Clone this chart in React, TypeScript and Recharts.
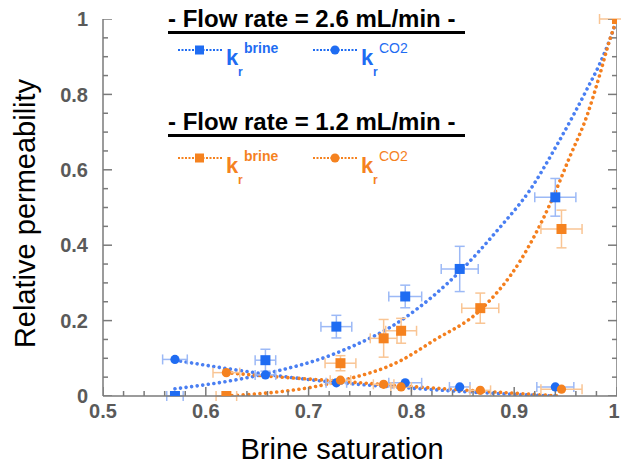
import React from 'react';
import { ComposedChart, Line, Scatter, XAxis, YAxis, ErrorBar, Label } from 'recharts';

// measured points, flow rate 2.6 mL/min (blue)
const swBrine26 = [0.570, 0.658, 0.727, 0.794, 0.847, 0.940, 1.0];
const krBrine26 = [0.0, 0.095, 0.184, 0.264, 0.337, 0.527, 1.0];
const exBrine26 = [0.008, 0.010, 0.015, 0.016, 0.018, 0.020, 0];
const eyBrine26 = [0, 0.029, 0.030, 0.030, 0.060, 0.050, 0];

const swCo226 = [0.570, 0.658, 0.727, 0.794, 0.847, 0.940];
const krCo226 = [0.097, 0.056, 0.035, 0.035, 0.024, 0.024];
const exCo226 = [0.012, 0.010, 0.010, 0.016, 0.010, 0.018];

// measured points, flow rate 1.2 mL/min (orange)
const swBrine12 = [0.620, 0.731, 0.773, 0.790, 0.867, 0.946, 1.0];
const krBrine12 = [0.0, 0.087, 0.153, 0.173, 0.233, 0.443, 1.0];
const exBrine12 = [0.010, 0.015, 0.013, 0.015, 0.018, 0.020, 0.017];
const eyBrine12 = [0, 0.020, 0.050, 0.033, 0.040, 0.050, 0];

const swCo212 = [0.620, 0.731, 0.773, 0.790, 0.867, 0.946];
const krCo212 = [0.062, 0.042, 0.031, 0.024, 0.015, 0.018];
const exCo212 = [0.013, 0.010, 0.010, 0.010, 0.010, 0.020];

// fitted curves
const fitBrine26Sw = [0.570, 0.658, 0.728, 0.795, 0.847, 0.886, 0.915, 0.942, 0.957, 0.971, 0.983, 0.993, 1.0];
const fitBrine26Kr = [0.019, 0.059, 0.115, 0.210, 0.330, 0.447, 0.545, 0.668, 0.742, 0.815, 0.880, 0.945, 1.0];
const fitCo226Sw = [0.570, 0.658, 0.727, 0.794, 0.867, 0.940];
const fitCo226Kr = [0.095, 0.058, 0.036, 0.022, 0.009, 0.0];
const fitBrine12Sw = [0.620, 0.731, 0.789, 0.821, 0.867, 0.906, 0.935, 0.954, 0.971, 0.983, 0.993, 1.0];
const fitBrine12Kr = [0.0, 0.040, 0.093, 0.146, 0.228, 0.359, 0.510, 0.634, 0.745, 0.850, 0.945, 1.0];
const fitCo212Sw = [0.620, 0.658, 0.727, 0.770, 0.867, 0.945];
const fitCo212Kr = [0.062, 0.053, 0.040, 0.031, 0.013, 0.0];

const xTicks = [0.5, 0.6, 0.7, 0.8, 0.9, 1];
const xMinorTicks = [0.5, 0.52, 0.54, 0.56, 0.58, 0.6, 0.62, 0.64, 0.66, 0.68, 0.7, 0.72, 0.74, 0.76, 0.78, 0.8, 0.82, 0.84, 0.86, 0.88, 0.9, 0.92, 0.94, 0.96, 0.98, 1];
const yTicks = [0, 0.2, 0.4, 0.6, 0.8, 1];
const yMinorTicks = [0, 0.05, 0.1, 0.15, 0.2, 0.25, 0.3, 0.35, 0.4, 0.45, 0.5, 0.55, 0.6, 0.65, 0.7, 0.75, 0.8, 0.85, 0.9, 0.95, 1];

const points = (sw: number[], kr: number[], ex: number[], ey?: number[]) =>
  sw.map((s, i) => ({ sw: s, kr: kr[i], ex: ex[i], ey: ey ? ey[i] : 0 }));
const curve = (sw: number[], kr: number[]) => sw.map((s, i) => ({ sw: s, kr: kr[i] }));
const isMajor = (v: number, list: number[]) => list.some((t) => Math.abs(t - v) < 1e-6);

// inward tick marks, placed through the chart scales
const bottomTicks = xMinorTicks.map((v) => ({ sw: v, kr: 0, major: isMajor(v, xTicks) }));
const leftTicks = yMinorTicks.map((v) => ({ sw: 0.5, kr: v, major: isMajor(v, yTicks) }));
const rightTicks = yMinorTicks.map((v) => ({ sw: 1, kr: v, major: isMajor(v, yTicks) }));
const rightFrame = [{ sw: 1, kr: 0 }, { sw: 1, kr: 1 }];

const BLUE = '#1f6cf2';
const BLUE_LINE = '#4a7ff2';
const BLUE_ERR = '#9cb9f6';
const ORANGE = '#f5821f';
const ORANGE_LINE = '#f47f1e';
const ORANGE_ERR = '#f9c594';
const GRID = '#7a7a7a';
const FONT = '"Liberation Sans", Arial, sans-serif';
const TICK_FILL = '#5a5a5a';

const squareShape = (color: string) => (p: any) => (
  <rect x={p.cx - 5} y={p.cy - 5} width={10} height={10} fill={color} />
);
const circleShape = (color: string) => (p: any) => (
  <circle cx={p.cx} cy={p.cy} r={4.6} fill={color} />
);
const tickShape = (dx: number, dy: number) => (p: any) => {
  const len = p.payload && p.payload.major ? 9 : 5;
  return (
    <line x1={p.cx} y1={p.cy} x2={p.cx + dx * len} y2={p.cy + dy * len} stroke={GRID} strokeWidth={1.5} />
  );
};

// bottom labels; the last one is nudged left so it stays inside the picture
const XTick = (p: any) => {
  const v = p.payload.value;
  return (
    <text x={v === 1 ? p.x - 3 : p.x} y={p.y} dy="0.71em" textAnchor="middle" fontFamily={FONT}
      fontWeight={700} fontSize={20} fill={TICK_FILL}>{String(v)}</text>
  );
};

const tickText = { fontFamily: FONT, fontWeight: 700, fontSize: 20, fill: TICK_FILL };

const dotted = { strokeWidth: 3.6, strokeDasharray: '0.01 5.6', strokeLinecap: 'round' as const };

function LegendOverlay() {
  const head = { fontFamily: FONT, fontWeight: 700, fontSize: 24, fill: '#000' };
  const item = (x: number, y: number, color: string, sup: string, square: boolean, supBold: boolean) => (
    <g>
      <line x1={x} x2={x + 44} y1={y} y2={y} stroke={color} strokeWidth={2} strokeDasharray="2 1.5" />
      {square ? (
        <rect x={x + 17} y={y - 4.5} width={9} height={9} fill={color} />
      ) : (
        <circle cx={x + 22} cy={y} r={4.5} fill={color} />
      )}
      <text x={x + 48} y={y + 15} fill={color} fontFamily={FONT} fontWeight={700} fontSize={22}>k</text>
      <text x={x + 60} y={y + 26} fill={color} fontFamily={FONT} fontWeight={700} fontSize={12}>r</text>
      <text x={x + 66} y={y + 3} fill={color} fontFamily={FONT} fontWeight={supBold ? 700 : 400} fontSize={14}>{sup}</text>
    </g>
  );
  return (
    <svg width={621} height={466} style={{ position: 'absolute', left: 0, top: 0, pointerEvents: 'none' }}>
      <text x={168} y={27} {...head}>- Flow rate = 2.6 mL/min -</text>
      <rect x={168} y={31} width={297} height={3} fill="#000" />
      {item(178, 50, BLUE, 'brine', true, true)}
      {item(313, 50, BLUE, 'CO2', false, false)}
      <text x={168} y={130} {...head}>- Flow rate = 1.2 mL/min -</text>
      <rect x={168} y={134} width={297} height={3} fill="#000" />
      {item(178, 158, ORANGE, 'brine', true, true)}
      {item(313, 158, ORANGE, 'CO2', false, false)}
    </svg>
  );
}

export default function App() {
  return (
    <div style={{ position: 'absolute', left: 0, top: 0, width: 621, height: 466, background: '#fff' }}>
      <ComposedChart width={621} height={466} margin={{ top: 19, right: 4, bottom: 0, left: 0 }}>
        <XAxis
          xAxisId="x"
          dataKey="sw"
          type="number"
          domain={[0.5, 1]}
          allowDataOverflow
          ticks={xTicks}
          interval={0}
          tickLine={false}
          tickSize={0}
          tickMargin={8}
          height={70}
          axisLine={{ stroke: GRID, strokeWidth: 1.5 }}
          tick={XTick}
        >
          <Label value="Brine saturation" position="insideBottom" offset={7} dx={-18}
            style={{ fontFamily: FONT, fontSize: 29, fill: '#000' }} />
        </XAxis>
        <YAxis
          yAxisId="y"
          dataKey="kr"
          type="number"
          domain={[0, 1]}
          allowDataOverflow
          ticks={yTicks}
          interval={0}
          tickLine={false}
          tickSize={0}
          tickMargin={15}
          width={103}
          axisLine={{ stroke: GRID, strokeWidth: 1.5 }}
          tick={tickText}
          label={{
            content: (p: any) => {
              const vb = p.viewBox || { x: 0, y: 19, width: 103, height: 376 };
              const cx = 35;
              const cy = vb.y + vb.height / 2 + 6;
              return (
                <text x={cx} y={cy} transform={`rotate(-90, ${cx}, ${cy})`} textAnchor="middle"
                  fontFamily={FONT} fontSize={29} fill="#000">Relative permeability</text>
              );
            },
          }}
        />

        {/* right frame and tick marks */}
        <Line xAxisId="x" yAxisId="y" data={rightFrame} dataKey="kr" type="linear" stroke={GRID} strokeWidth={1.5}
          dot={false} legendType="none" isAnimationActive={false} />
        <Scatter xAxisId="x" yAxisId="y" data={bottomTicks} dataKey="kr" shape={tickShape(0, -1)}
          legendType="none" isAnimationActive={false} />
        <Scatter xAxisId="x" yAxisId="y" data={leftTicks} dataKey="kr" shape={tickShape(1, 0)}
          legendType="none" isAnimationActive={false} />
        <Scatter xAxisId="x" yAxisId="y" data={rightTicks} dataKey="kr" shape={tickShape(-1, 0)}
          legendType="none" isAnimationActive={false} />

        <Line xAxisId="x" yAxisId="y" data={curve(fitBrine26Sw, fitBrine26Kr)} dataKey="kr" type="monotone"
          stroke={BLUE_LINE} {...dotted} dot={false} isAnimationActive={false} />
        <Line xAxisId="x" yAxisId="y" data={curve(fitCo226Sw, fitCo226Kr)} dataKey="kr" type="monotone"
          stroke={BLUE_LINE} {...dotted} dot={false} isAnimationActive={false} />
        <Line xAxisId="x" yAxisId="y" data={curve(fitBrine12Sw, fitBrine12Kr)} dataKey="kr" type="monotone"
          stroke={ORANGE_LINE} {...dotted} dot={false} isAnimationActive={false} />
        <Line xAxisId="x" yAxisId="y" data={curve(fitCo212Sw, fitCo212Kr)} dataKey="kr" type="monotone"
          stroke={ORANGE_LINE} {...dotted} dot={false} isAnimationActive={false} />

        <Scatter xAxisId="x" yAxisId="y" data={points(swBrine26, krBrine26, exBrine26, eyBrine26)} dataKey="kr"
          shape={squareShape(BLUE)} isAnimationActive={false}>
          <ErrorBar dataKey="ex" direction="x" width={5} stroke={BLUE_ERR} strokeWidth={1.5} />
          <ErrorBar dataKey="ey" direction="y" width={5} stroke={BLUE_ERR} strokeWidth={1.5} />
        </Scatter>
        <Scatter xAxisId="x" yAxisId="y" data={points(swCo226, krCo226, exCo226)} dataKey="kr"
          shape={circleShape(BLUE)} isAnimationActive={false}>
          <ErrorBar dataKey="ex" direction="x" width={5} stroke={BLUE_ERR} strokeWidth={1.5} />
        </Scatter>
        <Scatter xAxisId="x" yAxisId="y" data={points(swBrine12, krBrine12, exBrine12, eyBrine12)} dataKey="kr"
          shape={squareShape(ORANGE)} isAnimationActive={false}>
          <ErrorBar dataKey="ex" direction="x" width={5} stroke={ORANGE_ERR} strokeWidth={1.5} />
          <ErrorBar dataKey="ey" direction="y" width={5} stroke={ORANGE_ERR} strokeWidth={1.5} />
        </Scatter>
        <Scatter xAxisId="x" yAxisId="y" data={points(swCo212, krCo212, exCo212)} dataKey="kr"
          shape={circleShape(ORANGE)} isAnimationActive={false}>
          <ErrorBar dataKey="ex" direction="x" width={5} stroke={ORANGE_ERR} strokeWidth={1.5} />
        </Scatter>
      </ComposedChart>
      <LegendOverlay />
    </div>
  );
}
